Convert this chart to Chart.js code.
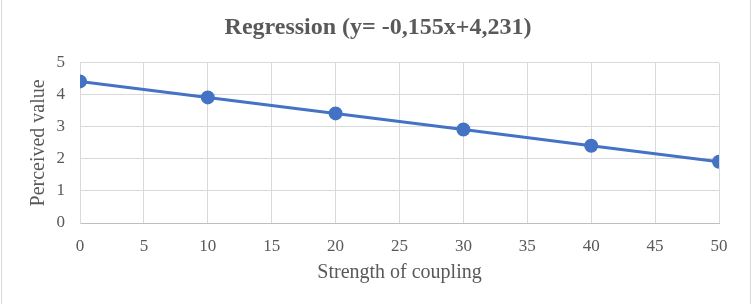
<!DOCTYPE html>
<html>
<head>
<meta charset="utf-8">
<script src="https://cdn.jsdelivr.net/npm/chart.js@4"></script>
<style>
  body { margin: 0; background: #fff; }
</style>
</head>
<body>
<canvas id="regChart" width="756" height="304"></canvas>
<script>
// data
var couplingX = [0, 10, 20, 30, 40, 50];
var perceived = [4.42, 3.92, 3.42, 2.92, 2.41, 1.91];
var xTicks = [0, 5, 10, 15, 20, 25, 30, 35, 40, 45, 50];
var yTicks = [0, 1, 2, 3, 4, 5];

var points = couplingX.map(function (x, i) {
  return { x: x, y: perceived[i] };
});

var grey = "#595959";
var serif = "'Liberation Serif', 'Times New Roman', serif";

// thin grey frame lines on the left and right side, like the original
var sideLines = {
  id: "sideLines",
  beforeDraw: function (chart) {
    var c = chart.ctx;
    c.save();
    c.strokeStyle = "#d9d9d9";
    c.lineWidth = 1;
    c.beginPath();
    c.moveTo(1.5, 0);
    c.lineTo(1.5, chart.height);
    c.moveTo(750.5, 0);
    c.lineTo(750.5, chart.height);
    c.stroke();
    c.restore();
  },
};

var ctx = document.getElementById("regChart").getContext("2d");
var chart = new Chart(ctx, {
  type: "scatter",
  data: {
    datasets: [
      {
        data: points,
        showLine: true,
        borderColor: "#4472c4",
        backgroundColor: "#4472c4",
        borderWidth: 3,
        pointRadius: 5.5,
        pointHoverRadius: 5.5,
      },
    ],
  },
  plugins: [sideLines],
  options: {
    responsive: false,
    animation: false,
    layout: { padding: 0 },
    plugins: {
      legend: { display: false },
      tooltip: { enabled: false },
      title: {
        display: true,
        text: "Regression (y= -0,155x+4,231)",
        color: grey,
        font: { family: serif, size: 24, weight: "bold" },
        padding: { top: 13, bottom: 21 },
      },
    },
    scales: {
      x: {
        type: "linear",
        min: 0,
        max: 50,
        afterBuildTicks: function (scale) {
          scale.ticks = xTicks.map(function (v) { return { value: v }; });
        },
        afterFit: function (scale) { scale.height = 81; },
        grid: { color: "#d9d9d9", drawTicks: false },
        border: { color: "#bfbfbf" },
        ticks: { color: grey, font: { family: serif, size: 17 }, padding: 13 },
        title: {
          display: true,
          text: "Strength of coupling",
          color: grey,
          font: { family: serif, size: 20 },
          padding: { top: 19, bottom: 19 },
        },
      },
      y: {
        min: 0,
        max: 5,
        afterBuildTicks: function (scale) {
          scale.ticks = yTicks.map(function (v) { return { value: v }; });
        },
        afterFit: function (scale) { scale.width = 80; },
        grid: { color: "#d9d9d9", drawTicks: false },
        border: { color: "#d9d9d9" },
        ticks: { color: grey, font: { family: serif, size: 17 }, padding: 15 },
        title: {
          display: true,
          text: "Perceived value",
          color: grey,
          font: { family: serif, size: 20 },
          padding: { top: 27, bottom: 0 },
        },
      },
      // empty axis on the right only to keep the right margin
      yRight: {
        position: "right",
        min: 0,
        max: 5,
        afterFit: function (scale) { scale.width = 37; },
        grid: { display: false },
        border: { display: false },
        ticks: { display: false },
      },
    },
  },
});
</script>
</body>
</html>
